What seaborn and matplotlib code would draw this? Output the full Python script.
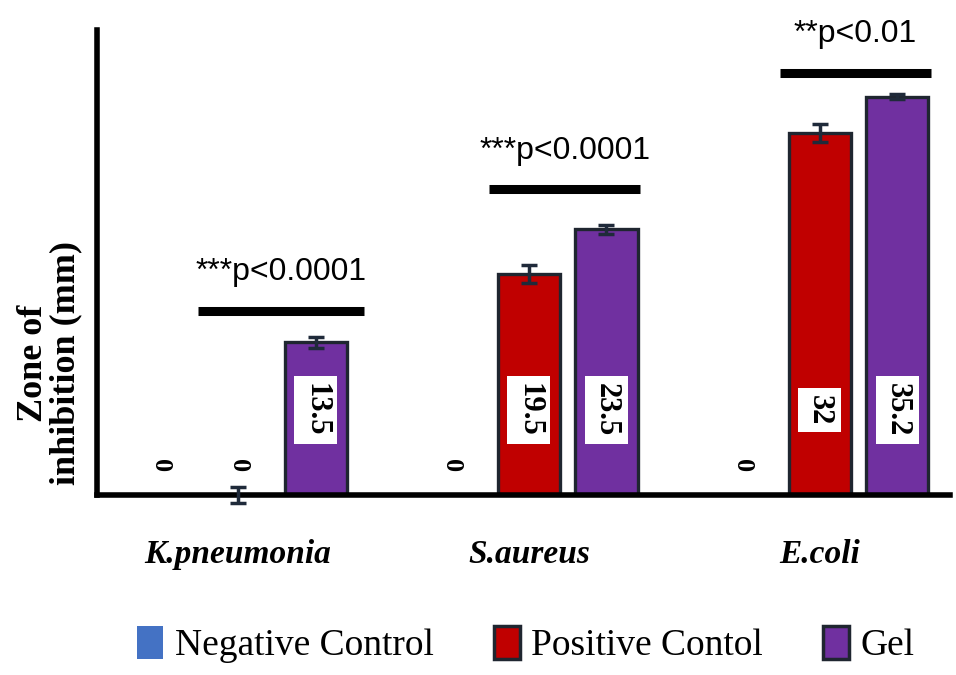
import pandas as pd
import matplotlib.pyplot as plt
import seaborn as sns
from matplotlib.patches import Patch

# data
bacteria   = ['K.pneumonia', 'S.aureus', 'E.coli']
groups     = ['Negative Control', 'Positive Contol', 'Gel']
neg_vals   = [0, 0, 0]
pos_vals   = [0, 19.5, 32]
gel_vals   = [13.5, 23.5, 35.2]
neg_err    = [0, 0, 0]
pos_err    = [0.7, 0.8, 0.8]
gel_err    = [0.5, 0.4, 0.2]
sig_labels = ['***p<0.0001', '***p<0.0001', '**p<0.01']
sig_height = [16.3, 27.0, 37.3]
colors     = ['#4472C4', '#C00000', '#7030A0']

EDGE  = '#1f2630'
SERIF = ['Liberation Serif', 'DejaVu Serif']
SANS  = ['Liberation Sans Narrow', 'Liberation Sans', 'DejaVu Sans']

df = pd.DataFrame({
    'bacteria': bacteria * 3,
    'group':    [g for g in groups for _ in bacteria],
    'value':    neg_vals + pos_vals + gel_vals,
})
errs = [neg_err, pos_err, gel_err]

sns.set_style('white')
plt.rcParams['font.family'] = SERIF
plt.rcParams['text.color'] = 'black'
plt.rcParams['xtick.color'] = 'black'

fig = plt.figure(figsize=(9.56, 6.75), dpi=100)
ax = fig.add_axes([0.1015, 0.2667, 0.892, 0.689])

sns.barplot(data=df, x='bacteria', y='value', hue='group', hue_order=groups,
            order=bacteria, palette=colors, saturation=1, width=0.8, gap=0.2,
            edgecolor=EDGE, linewidth=2.4, legend=False, ax=ax)

ax.set_xlim(-0.485, 2.447)
ax.set_ylim(0, 41.1)

bar_sets = [list(c.patches) for c in ax.containers]

# error bars + value labels, positioned from the drawn bars
for i, bars in enumerate(bar_sets):
    for j, p in enumerate(bars):
        x = p.get_x() + p.get_width() / 2
        h = p.get_height()
        if errs[i][j] > 0:
            ax.errorbar(x, h, yerr=errs[i][j], fmt='none', ecolor='#1f2a3a',
                        elinewidth=2.5, capsize=6, capthick=2.5,
                        clip_on=False, zorder=6)
        if h > 0:
            ax.text(x, 7.5, f'{h:g}', rotation=-90, ha='center', va='center',
                    fontsize=22, fontweight='bold', family=SERIF, zorder=5,
                    bbox=dict(facecolor='white', edgecolor='none', pad=5))
        else:
            ax.text(x, 2.6, '0', rotation=-90, ha='center', va='center',
                    fontsize=19, fontweight='bold', family=SERIF)

# significance bars over positive control vs gel
pos_bars, gel_bars = bar_sets[1], bar_sets[2]
for j in range(len(bacteria)):
    x0 = pos_bars[j].get_x() - 0.03
    x1 = gel_bars[j].get_x() + gel_bars[j].get_width() + 0.01
    if j == 0:
        x1 += 0.05
    ax.plot([x0, x1], [sig_height[j]] * 2, color='black', lw=6.5,
            solid_capstyle='butt', clip_on=False)
    ax.text((x0 + x1) / 2, sig_height[j] + 3.4, sig_labels[j], ha='center',
            va='center', fontsize=23, family=SANS, clip_on=False)

for s in ['top', 'right']:
    ax.spines[s].set_visible(False)
for s in ['left', 'bottom']:
    ax.spines[s].set_linewidth(4)
    ax.spines[s].set_color('black')
ax.set_yticks([])
ax.set_xlabel('')
ax.set_ylabel('')
ax.tick_params(axis='x', length=0, pad=32)
for lbl in ax.get_xticklabels():
    lbl.set_fontsize(24)
    lbl.set_fontweight('bold')
    lbl.set_fontstyle('italic')
    lbl.set_family(SERIF)

fig.text(0.052, 0.462, 'Zone of\ninhibition (mm)', rotation=90, ha='center',
         va='center', multialignment='center', fontsize=26,
         fontweight='bold', family=SERIF, linespacing=1.0)

handles = [Patch(facecolor=colors[0], edgecolor='none'),
           Patch(facecolor=colors[1], edgecolor=EDGE, linewidth=2.5),
           Patch(facecolor=colors[2], edgecolor=EDGE, linewidth=2.5)]
fig.legend(handles, groups, loc='center', bbox_to_anchor=(0.55, 0.045),
           ncol=3, frameon=False, prop={'family': SERIF, 'size': 27},
           handlelength=0.7, handleheight=1.0, handletextpad=0.3,
           columnspacing=1.6)

fig.savefig('out.png', dpi=100)
